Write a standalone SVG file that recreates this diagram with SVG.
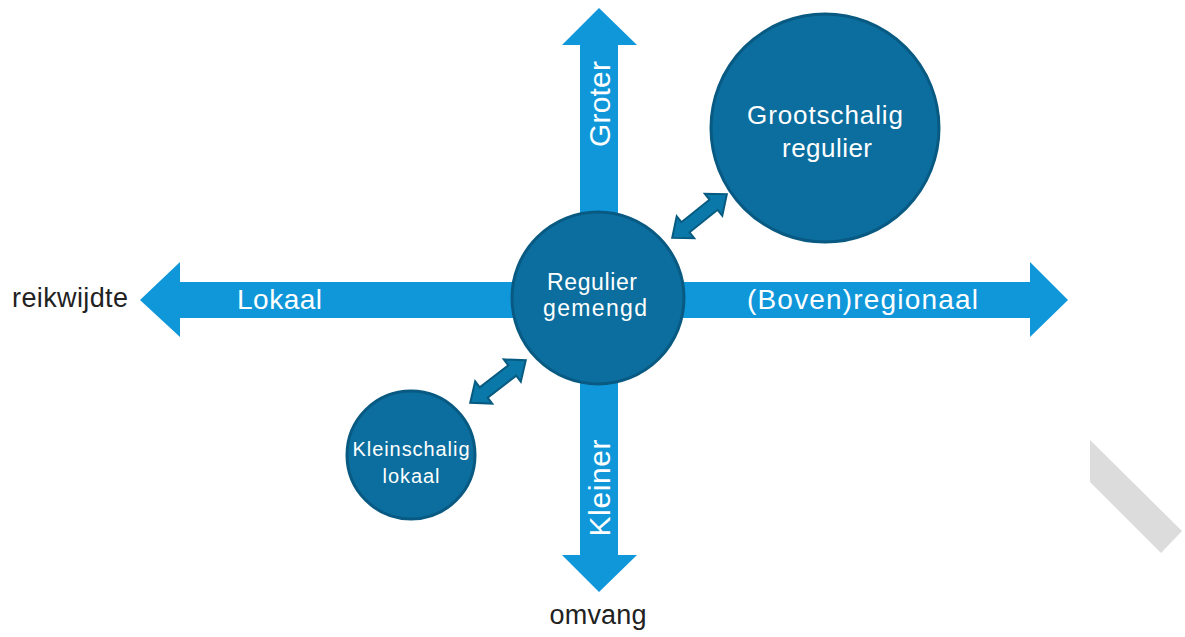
<svg xmlns="http://www.w3.org/2000/svg" width="1185" height="637" viewBox="0 0 1185 637">
<style>
.axis{fill:#0f97da}
.node{fill:#0b6e9e;stroke:#085a82;stroke-width:3}
.dbl{fill:#0b78aa;stroke:#075a80;stroke-width:2;stroke-linejoin:miter}
text{font-family:"Liberation Sans",Arial,sans-serif}
.w{fill:#ffffff}
.k{fill:#222222}
</style>
<defs>
<polygon id="dblarrow" class="dbl" points="-35,0 -18,-14 -18,-6.5 18,-6.5 18,-14 35,0 18,14 18,6.5 -18,6.5 -18,14"/>
</defs>
<polygon fill="#dcdcdc" points="1090,440 1090,482 1161,553 1182,531"/>
<g id="connectors">
<polygon class="axis" points="599,8 637,45 618,45 618,555 637,555 599,592 562,555 580,555 580,45 562,45"/>
<polygon class="axis" points="140,300 180,262 180,282 1030,282 1030,262 1068,300 1030,337 1030,318 180,318 180,337"/>
<use href="#dblarrow" transform="translate(699.5,216) rotate(-38.7)"/>
<use href="#dblarrow" transform="translate(498,381.5) rotate(-37.5)"/>
</g>
<g id="axis-labels">
<text class="k" x="12" y="307" font-size="27" textLength="116">reikwijdte</text>
<text class="k" x="598" y="624" font-size="27" text-anchor="middle" textLength="97">omvang</text>
<text class="w" x="237" y="309" font-size="28" textLength="85">Lokaal</text>
<text class="w" x="747" y="309" font-size="28" textLength="231">(Boven)regionaal</text>
<text class="w" transform="translate(610,104) rotate(-90)" font-size="30" text-anchor="middle" textLength="86">Groter</text>
<text class="w" transform="translate(610,488) rotate(-90)" font-size="30" text-anchor="middle" textLength="97">Kleiner</text>
</g>
<g id="node-gemengd">
<circle class="node" cx="598" cy="298" r="86"/>
<text class="w" x="592" y="290" font-size="23" text-anchor="middle" textLength="90">Regulier</text>
<text class="w" x="595" y="316" font-size="23" text-anchor="middle" textLength="104">gemengd</text>
</g>
<g id="node-grootschalig">
<circle class="node" cx="825" cy="128" r="114"/>
<text class="w" x="825" y="124" font-size="26" text-anchor="middle" textLength="156">Grootschalig</text>
<text class="w" x="827" y="157" font-size="26" text-anchor="middle" textLength="90">regulier</text>
</g>
<g id="node-kleinschalig">
<circle class="node" cx="411" cy="455" r="64"/>
<text class="w" x="411" y="456" font-size="20" text-anchor="middle" textLength="117">Kleinschalig</text>
<text class="w" x="411" y="483" font-size="20" text-anchor="middle" textLength="57">lokaal</text>
</g>
</svg>
